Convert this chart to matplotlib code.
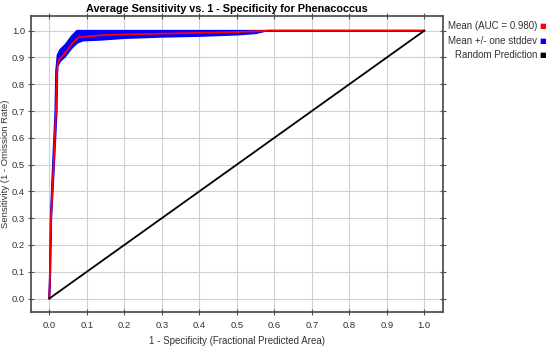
import numpy as np
import matplotlib
matplotlib.use("Agg")
import matplotlib.pyplot as plt

plt.rcParams["font.family"] = ["Liberation Sans", "DejaVu Sans"]

# -----------------------------
# Data
# -----------------------------
mean_x = [0.0, 0.002, 0.0045, 0.0115, 0.018, 0.02, 0.022, 0.027, 0.035, 0.047,
          0.06, 0.078, 0.1, 0.14, 0.2, 0.3, 0.4, 0.5, 0.59, 1.0]
mean_y = [0.0, 0.10, 0.30, 0.50, 0.70, 0.82, 0.87, 0.895, 0.905, 0.925,
          0.95, 0.975, 0.978, 0.983, 0.986, 0.989, 0.992, 0.995, 1.0, 1.0]

upper_x = [0.0, 0.0015, 0.0035, 0.0095, 0.016, 0.018, 0.022, 0.029, 0.043, 0.06, 0.074, 1.0]
upper_y = [0.0, 0.10, 0.30, 0.50, 0.70, 0.85, 0.91, 0.929, 0.948, 0.98, 1.0, 1.0]

lower_x = [0.0, 0.003, 0.0055, 0.013, 0.02, 0.022, 0.029, 0.043, 0.06, 0.074, 0.09,
           0.14, 0.2, 0.3, 0.4, 0.5, 0.55, 0.58, 1.0]
lower_y = [0.0, 0.10, 0.30, 0.50, 0.70, 0.866, 0.885, 0.904, 0.935, 0.954, 0.963,
           0.966, 0.972, 0.977, 0.980, 0.985, 0.99, 1.0, 1.0]

random_x = [0.0, 1.0]
random_y = [0.0, 1.0]

ticks = [round(0.1 * i, 1) for i in range(11)]
legend_labels = ["Mean (AUC = 0.980)", "Mean +/- one stddev", "Random Prediction"]
legend_colors = ["#ff0000", "#0000ff", "#000000"]

# -----------------------------
# Figure
# -----------------------------
fig = plt.figure(figsize=(5.5, 3.47), dpi=100)
ax = fig.add_axes([0.0555, 0.101, 0.750, 0.853])

# stddev band as a closed polygon (upper edge out, lower edge back)
band_x = np.concatenate([upper_x, lower_x[::-1]])
band_y = np.concatenate([upper_y, lower_y[::-1]])
ax.fill(band_x, band_y, color="#0000ff", edgecolor="#0000ff", linewidth=1.2, zorder=2)
ax.plot(mean_x, mean_y, color="#ff0000", linewidth=1.3, zorder=3)
ax.plot(random_x, random_y, color="#000000", linewidth=1.3, zorder=4)

ax.set_xlim(-0.05, 1.05)
ax.set_ylim(-0.05, 1.055)
ax.set_xticks(ticks)
ax.set_yticks(ticks)
ax.set_xticklabels([f"{t:.1f}" for t in ticks], fontsize=6.8, color="#333333")
ax.set_yticklabels([f"{t:.1f}" for t in ticks], fontsize=6.8, color="#333333")
ax.tick_params(direction="inout", length=5, width=0.8, color="#555555",
               top=True, right=True, pad=1.5)
ax.tick_params(axis="x", pad=4)
ax.grid(True, color="#d0d0d0", linewidth=0.8, zorder=0)
ax.set_axisbelow(True)
for spine in ax.spines.values():
    spine.set_linewidth(1.2)
    spine.set_color("#444444")

fig.text(227 / 550, 1 - 8.5 / 347, "Average Sensitivity vs. 1 - Specificity for Phenacoccus",
         ha="center", va="center", fontsize=7.8, fontweight="bold")
ax.set_xlabel("1 - Specificity (Fractional Predicted Area)", fontsize=7, color="#333333")
ax.set_ylabel("Sensitivity (1 - Omission Rate)", fontsize=6.8, color="#333333", va="center")
ax.yaxis.set_label_coords(-0.061, 0.5)

# -----------------------------
# Legend (outside, right aligned)
# -----------------------------
for i, (label, col) in enumerate(zip(legend_labels, legend_colors)):
    y = 1 - (26 + i * 14.5) / 347
    fig.text(537 / 550, y, label, ha="right", va="center", fontsize=7, color="#333333")
    fig.text(543 / 550, y, "\u25a0", ha="center", va="center", fontsize=5, color=col,
             family="DejaVu Sans")

fig.savefig("out.png", dpi=100)
